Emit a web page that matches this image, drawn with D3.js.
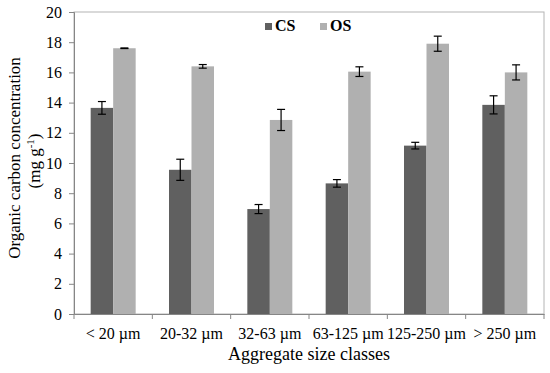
<!DOCTYPE html>
<html>
<head>
<meta charset="utf-8">
<script src="https://cdn.jsdelivr.net/npm/d3@7"></script>
<style>
  body { margin: 0; background: #fff; }
</style>
</head>
<body>
<div class="graph"></div>
<script>
// data
var sizeClasses = ["< 20 \u00b5m", "20-32 \u00b5m", "32-63 \u00b5m", "63-125 \u00b5m", "125-250 \u00b5m", "> 250 \u00b5m"];
var csValues = [13.65, 9.55, 6.95, 8.65, 11.15, 13.85];
var csErrors = [0.42, 0.7, 0.3, 0.25, 0.22, 0.6];
var osValues = [17.6, 16.4, 12.85, 16.05, 17.9, 16.0];
var osErrors = [0.02, 0.12, 0.7, 0.32, 0.5, 0.5];
var yTicks = [0, 2, 4, 6, 8, 10, 12, 14, 16, 18, 20];
var seriesNames = ["CS", "OS"];
var seriesColors = ["#606060", "#b0b0b0"];

var FONT = "Liberation Serif";

var draw = function() {
  var margin = {top: 12, right: 6, bottom: 59, left: 74},
      width = 550 - margin.left - margin.right,
      height = 373 - margin.top - margin.bottom;

  var svg = d3.select("div.graph").append("svg")
      .attr("width", 550)
      .attr("height", 373)
      .attr("font-family", FONT);

  var g = svg.append("g")
      .attr("transform", "translate(" + margin.left + "," + margin.top + ")");

  var x = d3.scaleBand().domain(sizeClasses).range([0, width]);
  var inner = d3.scaleBand().domain(seriesNames).range([0, 45]);
  var y = d3.scaleLinear().domain([0, 20]).range([height, 0]);

  // plot frame
  g.append("rect")
      .attr("x", 0).attr("y", 0)
      .attr("width", width).attr("height", height)
      .attr("fill", "none")
      .attr("stroke", "#b4b4b4");

  // bars
  var rows = sizeClasses.map(function(c, i) {
    return [
      {cls: c, s: "CS", v: csValues[i], e: csErrors[i]},
      {cls: c, s: "OS", v: osValues[i], e: osErrors[i]}
    ];
  });
  var flat = [].concat.apply([], rows);
  var off = (x.bandwidth() - 45) / 2;

  g.selectAll("rect.bar")
    .data(flat)
    .enter().append("rect")
      .attr("class", "bar")
      .attr("x", function(d) { return x(d.cls) + off + inner(d.s); })
      .attr("y", function(d) { return y(d.v); })
      .attr("width", inner.bandwidth())
      .attr("height", function(d) { return height - y(d.v); })
      .attr("fill", function(d) { return seriesColors[seriesNames.indexOf(d.s)]; });

  // error bars
  var eb = g.selectAll("g.err")
    .data(flat)
    .enter().append("g")
      .attr("class", "err")
      .attr("transform", function(d) {
        return "translate(" + (x(d.cls) + off + inner(d.s) + inner.bandwidth() / 2) + ",0)";
      });
  eb.append("line")
      .attr("y1", function(d) { return y(d.v + d.e); })
      .attr("y2", function(d) { return y(d.v - d.e); })
      .attr("stroke", "#000").attr("stroke-width", 1.2);
  eb.append("line")
      .attr("x1", -4).attr("x2", 4)
      .attr("y1", function(d) { return y(d.v + d.e); })
      .attr("y2", function(d) { return y(d.v + d.e); })
      .attr("stroke", "#000").attr("stroke-width", 1.2);
  eb.append("line")
      .attr("x1", -4).attr("x2", 4)
      .attr("y1", function(d) { return y(d.v - d.e); })
      .attr("y2", function(d) { return y(d.v - d.e); })
      .attr("stroke", "#000").attr("stroke-width", 1.2);

  // y axis
  var yAxis = g.append("g")
      .call(d3.axisLeft(y).tickValues(yTicks).tickSize(5).tickPadding(7))
      .attr("font-family", FONT)
      .attr("font-size", 16);
  yAxis.selectAll("line, path").attr("stroke", "#868686");

  // x axis
  var xAxis = g.append("g")
      .attr("transform", "translate(0," + height + ")")
      .call(d3.axisBottom(x).tickSize(0).tickPadding(14))
      .attr("font-family", FONT)
      .attr("font-size", 16);
  xAxis.select("path").attr("stroke", "#868686");
  // separators between categories
  g.selectAll("line.sep")
    .data(sizeClasses.concat(["end"]))
    .enter().append("line")
      .attr("class", "sep")
      .attr("x1", function(d, i) { return i * x.bandwidth(); })
      .attr("x2", function(d, i) { return i * x.bandwidth(); })
      .attr("y1", height).attr("y2", height + 5)
      .attr("stroke", "#868686");

  // axis titles
  svg.append("text")
      .attr("text-anchor", "middle")
      .attr("transform", "translate(20,158) rotate(-90)")
      .attr("font-size", 17)
      .text("Organic carbon concentration");
  var unit = svg.append("text")
      .attr("text-anchor", "middle")
      .attr("transform", "translate(40,161) rotate(-90)")
      .attr("font-size", 17);
  unit.append("tspan").text("(mg g");
  unit.append("tspan").attr("dy", -6).attr("font-size", 11).text("-1");
  unit.append("tspan").attr("dy", 6).text(")");

  svg.append("text")
      .attr("x", margin.left + width / 2)
      .attr("y", 360)
      .attr("text-anchor", "middle")
      .attr("font-size", 18)
      .text("Aggregate size classes");

  // legend
  var legX = [265, 320];
  var leg = svg.selectAll("g.legend")
    .data(seriesNames)
    .enter().append("g")
      .attr("class", "legend")
      .attr("transform", function(d, i) { return "translate(" + legX[i] + ",23)"; });
  leg.append("rect")
      .attr("width", 7).attr("height", 7)
      .attr("fill", function(d, i) { return seriesColors[i]; });
  leg.append("text")
      .attr("x", 10).attr("y", 8)
      .attr("font-size", 16)
      .attr("font-weight", "bold")
      .text(function(d) { return d; });
};

draw();
</script>
</body>
</html>
